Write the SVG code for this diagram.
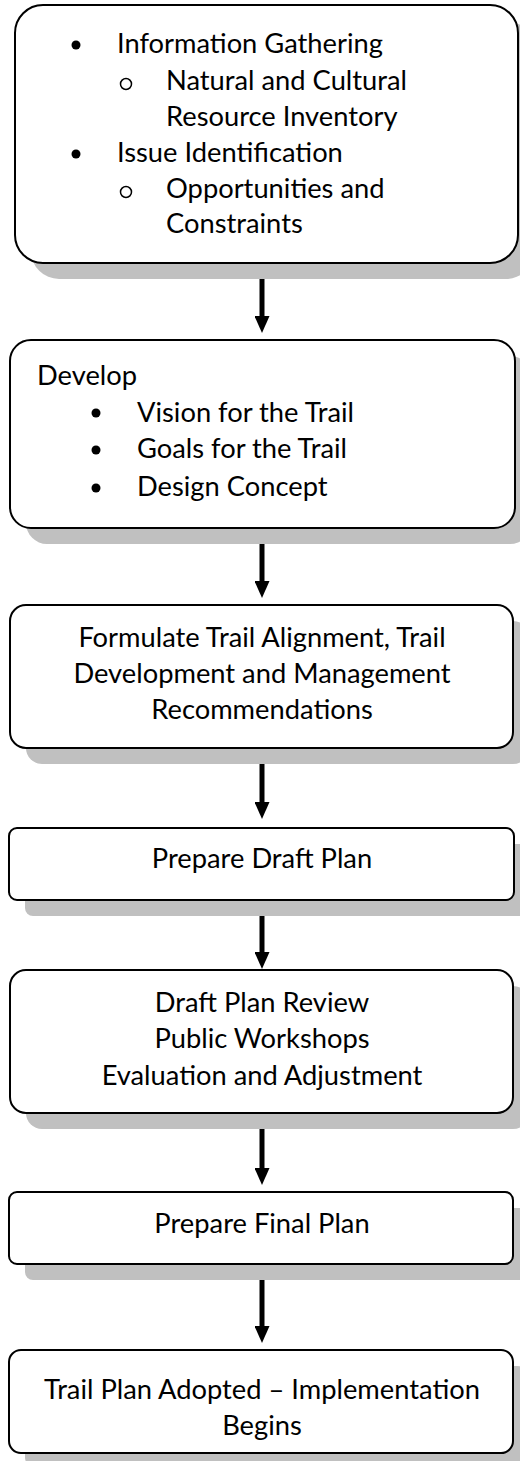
<svg xmlns="http://www.w3.org/2000/svg" width="520" height="1461" viewBox="0 0 520 1461">
<style>
.box{fill:#fff;stroke:#000;stroke-width:2}
.sh{fill:#c0c0c0}
.t{font-family:Lato,"Liberation Sans",sans-serif;font-size:27.3px;fill:#000}
.c{text-anchor:middle}
.b{fill:#000}
.o{fill:none;stroke:#000;stroke-width:1.5}
.ln{stroke:#000;stroke-width:5;fill:none}
</style>
<defs>
<marker id="ah" markerUnits="userSpaceOnUse" viewBox="0 0 17 15" markerWidth="17" markerHeight="15" refX="7" refY="7.5" orient="auto">
<path d="M0,0 L17,7.5 L0,15 z" fill="#000"/>
</marker>
</defs>
<rect width="520" height="1461" fill="#fff"/>
<g id="connectors">
<line class="ln" x1="262" y1="270" x2="262" y2="323" marker-end="url(#ah)"/>
<line class="ln" x1="262" y1="535" x2="262" y2="588" marker-end="url(#ah)"/>
<line class="ln" x1="262" y1="756" x2="262" y2="809" marker-end="url(#ah)"/>
<line class="ln" x1="262" y1="907" x2="262" y2="959" marker-end="url(#ah)"/>
<line class="ln" x1="262" y1="1122" x2="262" y2="1175" marker-end="url(#ah)"/>
<line class="ln" x1="262" y1="1280" x2="262" y2="1333" marker-end="url(#ah)"/>
</g>
<g id="n1">
<rect class="sh" x="31" y="21" width="503" height="258" rx="28"/>
<rect class="box" x="15" y="5" width="503" height="258" rx="28"/>
<circle class="b" cx="76" cy="45" r="4.5"/>
<text class="t" x="117" y="53">Information Gathering</text>
<circle class="o" cx="126" cy="84" r="5.5"/>
<text class="t" x="166" y="90">Natural and Cultural</text>
<text class="t" x="166" y="126">Resource Inventory</text>
<circle class="b" cx="76" cy="154" r="4.5"/>
<text class="t" x="117" y="162">Issue Identification</text>
<circle class="o" cx="126" cy="192" r="5.5"/>
<text class="t" x="166" y="198">Opportunities and</text>
<text class="t" x="166" y="233">Constraints</text>
</g>
<g id="n2">
<rect class="sh" x="26" y="356" width="505" height="188" rx="21"/>
<rect class="box" x="10" y="340" width="505" height="188" rx="21"/>
<text class="t" x="37" y="385">Develop</text>
<circle class="b" cx="96" cy="413" r="4.5"/>
<text class="t" x="137" y="422">Vision for the Trail</text>
<circle class="b" cx="96" cy="450" r="4.5"/>
<text class="t" x="137" y="458">Goals for the Trail</text>
<circle class="b" cx="96" cy="488" r="4.5"/>
<text class="t" x="137" y="496">Design Concept</text>
</g>
<g id="n3">
<rect class="sh" x="26" y="621" width="503" height="143" rx="16"/>
<rect class="box" x="10" y="605" width="503" height="143" rx="16"/>
<text class="t c" x="262" y="647">Formulate Trail Alignment, Trail</text>
<text class="t c" x="262" y="683">Development and Management</text>
<text class="t c" x="262" y="719">Recommendations</text>
</g>
<g id="n4">
<rect class="sh" x="25" y="844" width="505" height="72" rx="8"/>
<rect class="box" x="9" y="828" width="505" height="72" rx="8"/>
<text class="t c" x="262" y="868">Prepare Draft Plan</text>
</g>
<g id="n5">
<rect class="sh" x="26" y="986" width="503" height="143" rx="16"/>
<rect class="box" x="10" y="970" width="503" height="143" rx="16"/>
<text class="t c" x="262" y="1012">Draft Plan Review</text>
<text class="t c" x="262" y="1048">Public Workshops</text>
<text class="t c" x="262" y="1085">Evaluation and Adjustment</text>
</g>
<g id="n6">
<rect class="sh" x="25" y="1208" width="504" height="72" rx="8"/>
<rect class="box" x="9" y="1192" width="504" height="72" rx="8"/>
<text class="t c" x="262" y="1233">Prepare Final Plan</text>
</g>
<g id="n7">
<rect class="sh" x="25" y="1366" width="504" height="103" rx="12"/>
<rect class="box" x="9" y="1350" width="504" height="103" rx="12"/>
<text class="t c" x="262" y="1399">Trail Plan Adopted – Implementation</text>
<text class="t c" x="262" y="1435">Begins</text>
</g>
</svg>
